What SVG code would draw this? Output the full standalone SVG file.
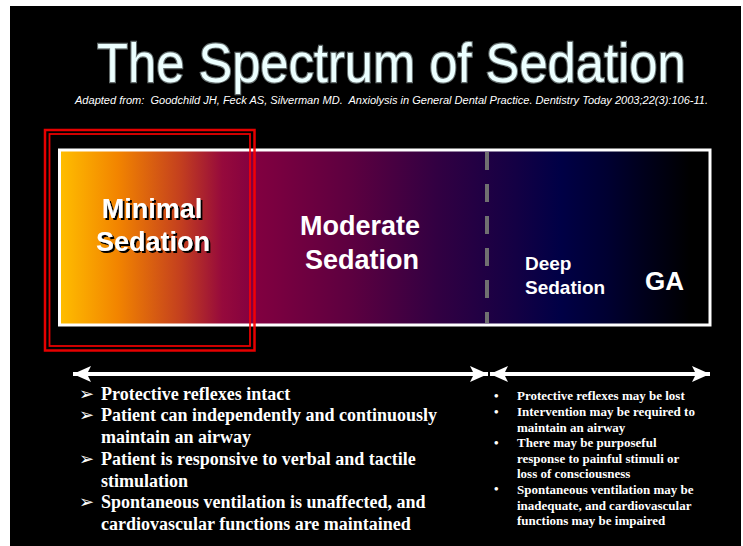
<svg xmlns="http://www.w3.org/2000/svg" width="743" height="546" viewBox="0 0 743 546">
<defs>
<linearGradient id="spec" x1="0" y1="0" x2="1" y2="0">
<stop offset="0" stop-color="#FFBE00"/>
<stop offset="0.09" stop-color="#F28400"/>
<stop offset="0.185" stop-color="#C4401E"/>
<stop offset="0.25" stop-color="#960A3C"/>
<stop offset="0.3" stop-color="#820040"/>
<stop offset="0.45" stop-color="#5C0040"/>
<stop offset="0.58" stop-color="#320042"/>
<stop offset="0.7" stop-color="#140044"/>
<stop offset="0.77" stop-color="#000046"/>
<stop offset="0.84" stop-color="#000032"/>
<stop offset="0.97" stop-color="#000000"/>
</linearGradient>
<filter id="shadow" x="-10%" y="-20%" width="120%" height="140%">
<feDropShadow dx="2" dy="2" stdDeviation="0.6" flood-color="#000" flood-opacity="1"/>
</filter>
<marker id="ah" markerUnits="userSpaceOnUse" markerWidth="20" markerHeight="16" viewBox="0 0 20 16" refX="18" refY="8" orient="auto-start-reverse">
<path d="M0,0 L18,8 L0,16 L4,8 Z" fill="#fff"/>
</marker>
<style>
.lbl{font-family:"Liberation Sans",Arial,sans-serif;font-weight:bold;fill:#fff}
.ser{font-family:"Liberation Serif","Times New Roman",serif;font-weight:bold;fill:#fff}
.big{font-size:18px}
.sm{font-size:13px}
.arr{stroke:#fff;stroke-width:4;fill:none;marker-start:url(#ah);marker-end:url(#ah)}
</style>
</defs>
<rect x="0" y="0" width="743" height="546" fill="#fff"/>
<rect x="10" y="6" width="731" height="540" fill="#000"/>
<g id="title">
<text transform="translate(97,82) scale(0.905,1)" x="0" y="0" font-family="'Liberation Sans',Arial,sans-serif" font-size="56" fill="#ECFFFF" stroke="#A8B8B8" stroke-opacity="0.6" stroke-width="2.4" paint-order="stroke">The Spectrum of Sedation</text>
<text x="75" y="104" textLength="633" lengthAdjust="spacingAndGlyphs" xml:space="preserve" font-family="'Liberation Sans',Arial,sans-serif" font-style="italic" font-size="10" fill="#fff">Adapted from:  Goodchild JH, Feck AS, Silverman MD.  Anxiolysis in General Dental Practice. Dentistry Today 2003;22(3):106-11.</text>
</g>
<g id="spectrum-bar">
<rect x="59.5" y="150" width="650.5" height="175" fill="url(#spec)" stroke="#fff" stroke-width="3"/>
<line x1="487" y1="152" x2="487" y2="323" stroke="#707070" stroke-width="4" stroke-dasharray="18 14"/>
</g>
<g id="minimal">
<text class="lbl" font-size="27" text-anchor="middle" filter="url(#shadow)"><tspan x="152" y="218">Minimal</tspan><tspan x="153" y="251">Sedation</tspan></text>
</g>
<g id="highlight">
<rect x="45" y="130" width="209.5" height="220.5" fill="none" stroke="#f00" stroke-width="2.5" opacity="0.9"/>
<rect x="49.5" y="134" width="200.5" height="212" fill="none" stroke="#f00" stroke-width="1.8" opacity="0.9"/>
</g>
<g id="moderate">
<text class="lbl" font-size="27" text-anchor="middle"><tspan x="360" y="235">Moderate</tspan><tspan x="362" y="269">Sedation</tspan></text>
</g>
<g id="deep">
<text class="lbl" font-size="19"><tspan x="525" y="270">Deep</tspan><tspan x="525" y="294">Sedation</tspan></text>
</g>
<g id="ga">
<text class="lbl" font-size="26" x="645" y="290">GA</text>
</g>
<g id="connectors">
<line class="arr" x1="73" y1="374" x2="488" y2="374"/>
<line class="arr" x1="490" y1="374" x2="710" y2="374"/>
</g>
<g id="left-list">
<g font-family="'DejaVu Sans',sans-serif" font-size="18" fill="#fff">
<text x="79" y="400">➢</text>
<text x="79" y="421">➢</text>
<text x="79" y="465">➢</text>
<text x="79" y="508">➢</text>
</g>
<text class="ser big" x="101" y="400">Protective reflexes intact</text>
<text class="ser big" x="101" y="421">Patient can independently and continuously</text>
<text class="ser big" x="101" y="443">maintain an airway</text>
<text class="ser big" x="101" y="465">Patient is responsive to verbal and tactile</text>
<text class="ser big" x="101" y="487">stimulation</text>
<text class="ser big" x="101" y="508">Spontaneous ventilation is unaffected, and</text>
<text class="ser big" x="101" y="530">cardiovascular functions are maintained</text>
</g>
<g id="right-list">
<g class="ser sm">
<text x="494" y="400">•</text>
<text x="494" y="416">•</text>
<text x="494" y="447">•</text>
<text x="494" y="493">•</text>
</g>
<text class="ser sm" x="517" y="400">Protective reflexes may be lost</text>
<text class="ser sm" x="517" y="416">Intervention may be required to</text>
<text class="ser sm" x="517" y="432">maintain an airway</text>
<text class="ser sm" x="517" y="447">There may be purposeful</text>
<text class="ser sm" x="517" y="463">response to painful stimuli or</text>
<text class="ser sm" x="517" y="478">loss of consciousness</text>
<text class="ser sm" x="517" y="494">Spontaneous ventilation may be</text>
<text class="ser sm" x="517" y="510">inadequate, and cardiovascular</text>
<text class="ser sm" x="517" y="525">functions may be impaired</text>
</g>
</svg>
